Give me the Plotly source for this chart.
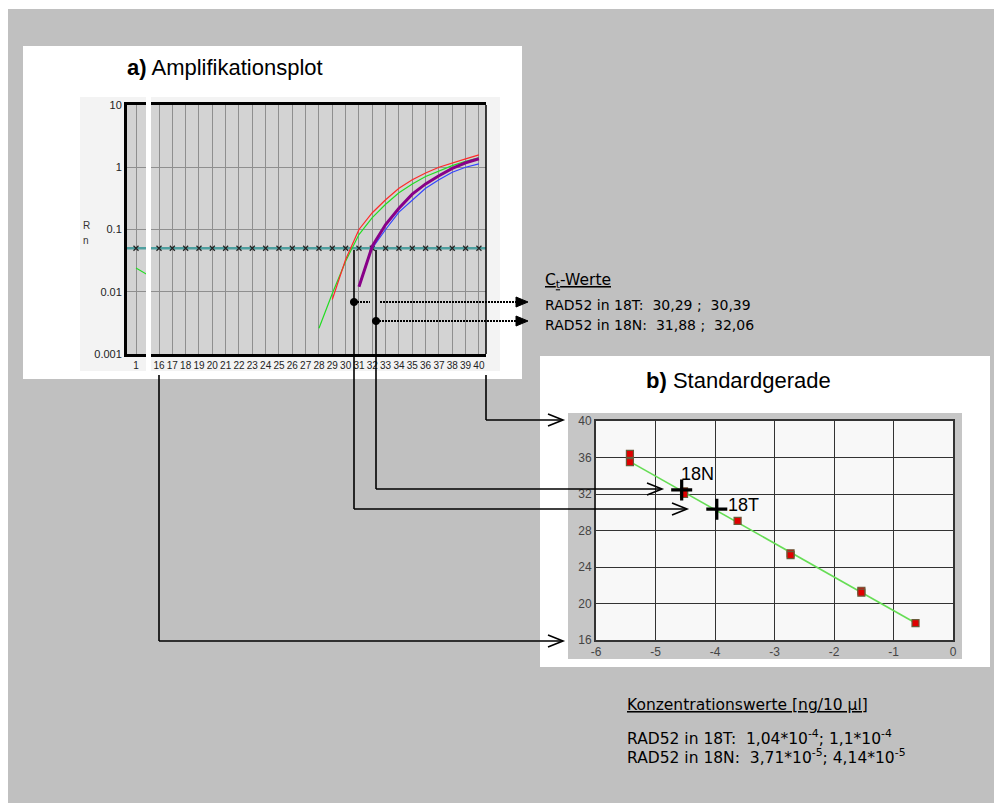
import plotly.graph_objects as go

W, H = 1002, 803
# the page body adds an 8 px margin; reference pixel positions are mapped through it
OX, OY = 8, 8
FONT = "Liberation Sans, Arial, sans-serif"
FONT_WIDE = "DejaVu Sans, Liberation Sans, sans-serif"

# ---------------- data: a) Amplifikationsplot ----------------
EARLY_CYCLES = [1, 2]
GREEN_EARLY = [0.024, 0.018]
GREEN_CYCLES = list(range(28, 41))
GREEN_RN = [0.0026, 0.0094, 0.031, 0.083, 0.155, 0.254, 0.39, 0.54, 0.71, 0.88, 1.06, 1.25, 1.42]
RED_CYCLES = list(range(29, 41))
RED_RN = [0.0075, 0.033, 0.1, 0.186, 0.3, 0.46, 0.63, 0.81, 1.0, 1.18, 1.36, 1.58]
PURPLE_CYCLES = list(range(31, 41))
PURPLE_RN = [0.012, 0.054, 0.12, 0.22, 0.37, 0.54, 0.73, 0.96, 1.18, 1.37]
BLUE_CYCLES = list(range(32, 41))
BLUE_RN = [0.05, 0.1, 0.19, 0.3, 0.46, 0.63, 0.83, 1.0, 1.13]
THRESHOLD = 0.05
THRESH_CYCLES_LEFT = [1]
THRESH_CYCLES_RIGHT = list(range(16, 41))
Y_TICKS = [0.001, 0.01, 0.1, 1, 10]
Y_TICK_TEXT = ["0.001", "0.01", "0.1", "1", "10"]

CT_18T = ["30,29", "30,39"]
CT_18N = ["31,88", "32,06"]

# ---------------- data: b) Standardgerade ----------------
STD_LOG_CONC = [-5.43, -5.43, -4.52, -4.52, -3.62, -2.73, -2.73, -1.54, -1.54, -0.63]
STD_CT = [36.4, 35.5, 32.3, 32.0, 29.05, 25.5, 25.3, 21.4, 21.2, 17.86]
FIT_X = [-5.43, -0.63]
FIT_Y = [35.55, 17.86]
SAMPLE_NAMES = ["18N", "18T"]
SAMPLE_X = [-4.56, -3.97]
SAMPLE_Y = [32.45, 30.34]
B_X_TICKS = [-6, -5, -4, -3, -2, -1, 0]
B_Y_TICKS = [16, 20, 24, 28, 32, 36, 40]

KONZ_18T = ["1,04*10<sup>-4</sup>", "1,1*10<sup>-4</sup>"]
KONZ_18N = ["3,71*10<sup>-5</sup>", "4,14*10<sup>-5</sup>"]


def px(x):
    return (x - OX) / W


def py(y):
    return 1 - (y - OY) / H


fig = go.Figure()

# amplification curves (left segment: cycle 1)
fig.add_trace(go.Scatter(x=EARLY_CYCLES, y=GREEN_EARLY, mode="lines",
                         line=dict(color="#22dd22", width=1.2), xaxis="x", yaxis="y"))
fig.add_trace(go.Scatter(x=THRESH_CYCLES_LEFT, y=[THRESHOLD] * len(THRESH_CYCLES_LEFT),
                         mode="markers", marker=dict(symbol="x-thin", size=5,
                                                     line=dict(color="#222", width=1.2)),
                         xaxis="x", yaxis="y"))
# right segment
fig.add_trace(go.Scatter(x=THRESH_CYCLES_RIGHT, y=[THRESHOLD] * len(THRESH_CYCLES_RIGHT),
                         mode="markers", marker=dict(symbol="x-thin", size=5,
                                                     line=dict(color="#222", width=1.2)),
                         xaxis="x2", yaxis="y"))
fig.add_trace(go.Scatter(x=GREEN_CYCLES, y=GREEN_RN, mode="lines",
                         line=dict(color="#22dd22", width=1.2), xaxis="x2", yaxis="y"))
fig.add_trace(go.Scatter(x=RED_CYCLES, y=RED_RN, mode="lines",
                         line=dict(color="#ff2a2a", width=1.2), xaxis="x2", yaxis="y"))
fig.add_trace(go.Scatter(x=BLUE_CYCLES, y=BLUE_RN, mode="lines",
                         line=dict(color="#3344ff", width=1.2), xaxis="x2", yaxis="y"))
fig.add_trace(go.Scatter(x=PURPLE_CYCLES, y=PURPLE_RN, mode="lines",
                         line=dict(color="#880088", width=3), xaxis="x2", yaxis="y"))

# standard curve
fig.add_trace(go.Scatter(x=FIT_X, y=FIT_Y, mode="lines",
                         line=dict(color="#66dd55", width=1.6), xaxis="x3", yaxis="y3"))
fig.add_trace(go.Scatter(x=STD_LOG_CONC, y=STD_CT, mode="markers",
                         marker=dict(symbol="square", size=7, color="#e00000",
                                     line=dict(color="#6b5a3a", width=1.2)),
                         xaxis="x3", yaxis="y3"))
fig.add_trace(go.Scatter(x=SAMPLE_X, y=SAMPLE_Y, mode="markers",
                         marker=dict(symbol="cross-thin", size=15,
                                     line=dict(color="black", width=3.2)),
                         xaxis="x3", yaxis="y3"))

shapes = []
# page background
shapes.append(dict(type="rect", xref="paper", yref="paper", x0=px(6), x1=px(1012), y0=py(813), y1=py(9),
                   fillcolor="#c0c0c0", line=dict(width=0), layer="below"))
# panel a
shapes.append(dict(type="rect", xref="paper", yref="paper", x0=px(23), x1=px(522), y0=py(379), y1=py(46),
                   fillcolor="white", line=dict(width=0), layer="below"))
shapes.append(dict(type="rect", xref="paper", yref="paper", x0=px(80), x1=px(500), y0=py(371), y1=py(97),
                   fillcolor="#f3f3f3", line=dict(width=0), layer="below"))
shapes.append(dict(type="rect", xref="paper", yref="paper", x0=px(146), x1=px(151), y0=py(373), y1=py(97),
                   fillcolor="white", line=dict(width=0), layer="below"))
for xr in ["x domain", "x2 domain"]:
    shapes.append(dict(type="rect", xref=xr, yref="y domain", x0=0, x1=1, y0=0, y1=1,
                       fillcolor="#d3d3d3", line=dict(width=0), layer="below"))
# panel b
shapes.append(dict(type="rect", xref="paper", yref="paper", x0=px(540), x1=px(990), y0=py(667), y1=py(356),
                   fillcolor="white", line=dict(width=0), layer="below"))
shapes.append(dict(type="rect", xref="paper", yref="paper", x0=px(568), x1=px(962), y0=py(659), y1=py(413),
                   fillcolor="#c6c6c6", line=dict(width=0), layer="below"))
shapes.append(dict(type="rect", xref="x3 domain", yref="y3 domain", x0=0, x1=1, y0=0, y1=1,
                   fillcolor="#f8f8f8", line=dict(width=0), layer="below"))

# threshold line (shape positions on a log axis are given in data units)
for xr in ["x domain", "x2 domain"]:
    shapes.append(dict(type="line", xref=xr, yref="y", x0=0, x1=1,
                       y0=THRESHOLD, y1=THRESHOLD,
                       line=dict(color="#4f9f9f", width=2.5), layer="below"))
# right border of amplification plot
shapes.append(dict(type="line", xref="x2 domain", yref="y domain", x0=1, x1=1, y0=0, y1=1,
                   line=dict(color="black", width=1.5)))

BLK = dict(color="black", width=1.6)


def seg(x0, y0, x1, y1, line=BLK):
    shapes.append(dict(type="line", xref="paper", yref="paper",
                       x0=px(x0), y0=py(y0), x1=px(x1), y1=py(y1), line=line))


def open_arrow(tx, ty):
    shapes.append(dict(type="path", xref="paper", yref="paper",
                       path=f"M {px(tx-15)},{py(ty-6)} L {px(tx)},{py(ty)} L {px(tx-15)},{py(ty+6)}",
                       line=dict(color="black", width=1.6)))


def filled_arrow(tx, ty):
    shapes.append(dict(type="path", xref="paper", yref="paper",
                       path=f"M {px(tx-12)},{py(ty-5)} L {px(tx)},{py(ty)} L {px(tx-12)},{py(ty+5)} Z",
                       fillcolor="black", line=dict(color="black", width=1)))


def dot(cx, cy, r=3.6):
    shapes.append(dict(type="circle", xref="paper", yref="paper",
                       x0=px(cx - r), x1=px(cx + r), y0=py(cy + r), y1=py(cy - r),
                       fillcolor="black", line=dict(color="black", width=1)))


DOTTED = dict(color="black", width=2, dash="2px,1px")
# Ct 18T connector
seg(354, 250, 354, 509)
seg(354, 509, 686, 509)
open_arrow(687, 509)
seg(354, 302, 370, 302, DOTTED)
seg(380, 302, 516, 302, DOTTED)
filled_arrow(528, 302)
dot(354, 302)
# Ct 18N connector
seg(376, 250, 376, 489)
seg(376, 489, 661, 489)
open_arrow(662, 489)
seg(376, 321, 516, 321, DOTTED)
filled_arrow(528, 321)
dot(376, 321)
# axis range connectors
seg(159, 375, 159, 641)
seg(159, 641, 562, 641)
open_arrow(563, 641)
seg(486, 375, 486, 420)
seg(486, 420, 562, 420)
open_arrow(563, 420)

NB = "\u00a0"
annotations = []


def text(x, y, s, size, color="black", anchor="left", family=FONT):
    annotations.append(dict(xref="paper", yref="paper", x=px(x), y=py(y), text=s, showarrow=False,
                            xanchor=anchor, yanchor="middle",
                            font=dict(family=family, size=size, color=color)))


text(125, 68, "<b>a)</b> Amplifikationsplot", 22)
text(644, 380, "<b>b)</b> Standardgerade", 22)
text(86, 226, "R", 10, "#333", "center")
text(86, 240, "n", 10, "#333", "center")

text(543, 281, "<u>C<sub>t</sub>-Werte</u>", 15.5, family=FONT_WIDE)
text(543, 305, f"RAD52 in 18T:{NB}{NB}{CT_18T[0]} ;{NB}{NB}{CT_18T[1]}", 14, family=FONT_WIDE)
text(543, 324.5, f"RAD52 in 18N:{NB}{NB}{CT_18N[0]} ;{NB}{NB}{CT_18N[1]}", 14, family=FONT_WIDE)

text(625, 705, "<u>Konzentrationswerte [ng/10 µl]</u>", 15.5, family=FONT_WIDE)
text(625, 737, f"RAD52 in 18T:{NB}{NB}{KONZ_18T[0]}; {KONZ_18T[1]}", 15.5, family=FONT_WIDE)
text(625, 756, f"RAD52 in 18N:{NB}{NB}{KONZ_18N[0]}; {KONZ_18N[1]}", 15.5, family=FONT_WIDE)

annotations.append(dict(xref="x3", yref="y3", x=SAMPLE_X[0], y=SAMPLE_Y[0], text=SAMPLE_NAMES[0],
                        showarrow=False, xanchor="left", yanchor="middle", xshift=-3, yshift=16,
                        font=dict(family=FONT, size=18, color="black")))
annotations.append(dict(xref="x3", yref="y3", x=SAMPLE_X[1], y=SAMPLE_Y[1], text=SAMPLE_NAMES[1],
                        showarrow=False, xanchor="left", yanchor="middle", xshift=9, yshift=4,
                        font=dict(family=FONT, size=18, color="black")))

grid_a = "#8f8f8f"
axis_a = dict(showgrid=True, gridcolor=grid_a, gridwidth=1.2, zeroline=False, showline=True,
              mirror=True, linecolor="black", linewidth=2.5, ticks="", tickangle=0,
              tickfont=dict(family=FONT, size=10, color="#222"))

fig.update_layout(
    width=W, height=H, autosize=False,
    margin=dict(l=0, r=0, t=0, b=0, pad=0, autoexpand=False),
    paper_bgcolor="white", plot_bgcolor="rgba(0,0,0,0)",
    showlegend=False,
    xaxis=dict(domain=[px(127), px(146)], range=[0.325, 1.75], tickvals=[1], anchor="y", **axis_a),
    xaxis2=dict(domain=[px(151), px(486)], range=[15.4, 40.53], tick0=16, dtick=1, anchor="y", **axis_a),
    yaxis=dict(domain=[py(354), py(105)], type="log", range=[-3, 1], tickvals=Y_TICKS, ticktext=Y_TICK_TEXT,
               anchor="x", showgrid=True, gridcolor=grid_a, gridwidth=1.2, zeroline=False,
               showline=True, linecolor="black", linewidth=3, ticks="",
               tickfont=dict(family=FONT, size=11, color="#222")),
    xaxis3=dict(domain=[px(596), px(953)], range=[-6, 0], tickvals=B_X_TICKS,
                ticktext=[str(v) for v in B_X_TICKS], anchor="y3",
                showgrid=True, gridcolor="#333", gridwidth=1.4, zeroline=False, showline=True, mirror=True,
                linecolor="#333", linewidth=2, ticks="", tickangle=0,
                tickfont=dict(family=FONT, size=12, color="#444")),
    yaxis3=dict(domain=[py(640), py(421)], range=[16, 40], tickvals=B_Y_TICKS,
                ticktext=[str(v) for v in B_Y_TICKS], anchor="x3",
                showgrid=True, gridcolor="#333", gridwidth=1.4, zeroline=False, showline=True, mirror=True,
                linecolor="#333", linewidth=2, ticks="",
                tickfont=dict(family=FONT, size=12, color="#444")),
    shapes=shapes,
    annotations=annotations,
)

fig.write_html("out.html")
